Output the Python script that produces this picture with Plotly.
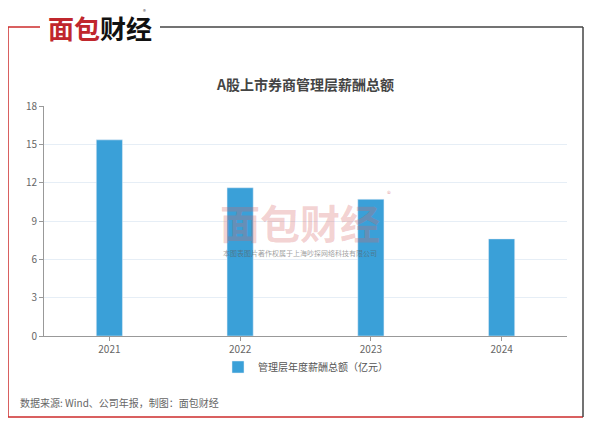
import plotly.graph_objects as go

years = ["2021", "2022", "2023", "2024"]
pay = [15.35, 11.6, 10.7, 7.6]
series_name = "管理层年度薪酬总额（亿元）"
title = "A股上市券商管理层薪酬总额"
source = "数据来源: Wind、公司年报，制图：面包财经"

font = "Noto Sans CJK SC"
# page has an 8px body margin, so work in reference pixels minus 8
OFF = 8
L, R, T, B = 44 - OFF, 567 - OFF, 106 - OFF, 336 - OFF


def px(x):
    return (x - OFF - L) / (R - L)


def py(y):
    return (B - (y - OFF)) / (B - T)


fig = go.Figure()
fig.add_trace(go.Bar(x=years, y=pay, name=series_name, width=0.2,
                     marker=dict(color="#3aa0d8"), showlegend=True))

fig.update_layout(
    width=600, height=424, paper_bgcolor="white", plot_bgcolor="white",
    margin=dict(l=L, r=600 - R, t=T, b=424 - B),
    font=dict(family=font, size=10, color="#666"),
    legend=dict(orientation="h", x=0.5, xanchor="center", y=py(367), yanchor="middle",
                font=dict(size=10, color="#555")),
)
fig.update_xaxes(showline=True, linecolor="#999", ticks="outside", tickcolor="#999",
                 ticklen=4, showgrid=False)
fig.update_yaxes(range=[0, 18], dtick=3, showline=True, linecolor="#999",
                 ticks="outside", tickcolor="#999", ticklen=4,
                 gridcolor="#e6eef6", zeroline=False)

fig.add_annotation(text="<b>" + title + "</b>", xref="paper", yref="paper", x=px(305),
                   y=py(72), showarrow=False, font=dict(size=14, color="#444"))

# frame lines
shapes = [
    (8, 8, 27, 417, "#cc2b2b"),
    (8, 583, 417, 417, "#cc2b2b"),
    (8, 40, 27, 27, "#cc2b2b"),
    (160, 583, 27, 27, "#444"),
    (583, 583, 27, 417, "#444"),
]
for x0, x1, y0, y1, c in shapes:
    fig.add_shape(type="line", xref="paper", yref="paper",
                  x0=px(x0), x1=px(x1), y0=py(y0), y1=py(y1),
                  line=dict(color=c, width=1.5))

fig.add_annotation(text="<b><span style='color:#c0272d'>面包</span>财经</b>",
                   xref="paper", yref="paper", x=px(46), y=py(27),
                   xanchor="left", yanchor="middle", showarrow=False,
                   font=dict(size=26, color="#111", family=font))
fig.add_annotation(text="®", xref="paper", yref="paper", x=px(141),
                   y=py(5), showarrow=False, font=dict(size=6, color="#555"))

# watermark
fig.add_annotation(text="<b>面包财经</b>", xref="paper", yref="paper", x=px(300),
                   y=py(222), showarrow=False,
                   font=dict(size=40, color="rgba(215,100,100,0.3)", family=font))
fig.add_annotation(text="本图表图片著作权属于上海吵探网络科技有限公司", xref="paper", yref="paper",
                   x=px(300), y=py(253), showarrow=False,
                   font=dict(size=7, color="rgba(90,90,90,0.6)", family=font))
fig.add_annotation(text="®", xref="paper", yref="paper", x=px(389),
                   y=py(193), showarrow=False,
                   font=dict(size=8, color="rgba(205,80,80,0.5)"))

fig.add_annotation(text=source, xref="paper", yref="paper", x=px(18),
                   y=py(403), xanchor="left", yanchor="middle", showarrow=False,
                   font=dict(size=10, color="#666", family=font))

fig.write_html("out.html")
